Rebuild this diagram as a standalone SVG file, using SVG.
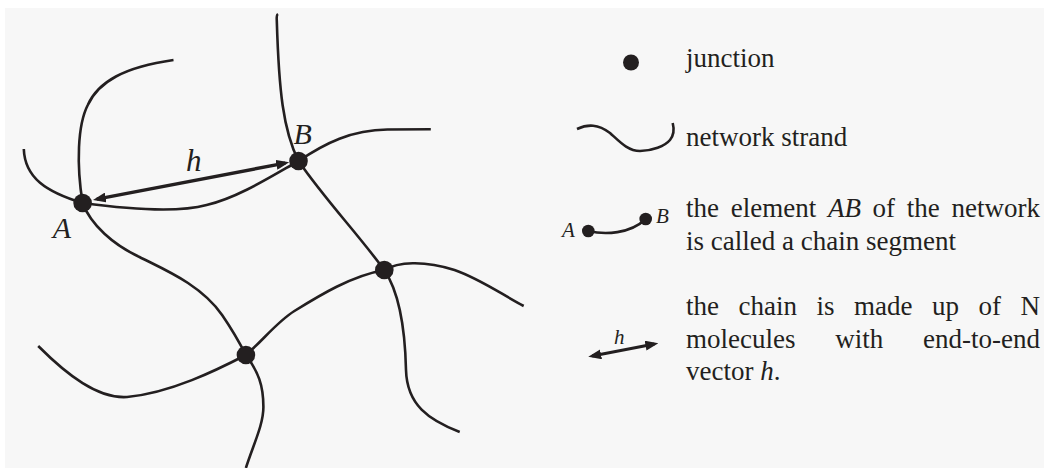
<svg xmlns="http://www.w3.org/2000/svg" width="1044" height="468" viewBox="0 0 1044 468">
  <style>
    .strand { fill: none; stroke: #231f20; stroke-width: 2.6; stroke-linecap: butt; }
    .junction { fill: #231f20; }
    .vec { fill: none; stroke: #231f20; stroke-width: 3.4; }
    .txt { font-family: "Liberation Serif", "Times New Roman", serif; font-size: 27px; fill: #231f20; }
    .lbl { font-family: "Liberation Serif", "Times New Roman", serif; font-style: italic; fill: #231f20; }
  </style>
  <defs>
    <marker id="head" viewBox="0 0 13 10" refX="9" refY="5" markerWidth="13" markerHeight="10" markerUnits="userSpaceOnUse" orient="auto-start-reverse">
      <path d="M0,0 L13,5 L0,10 z" fill="#231f20"/>
    </marker>
  </defs>
  <rect x="0" y="0" width="1044" height="468" fill="#ffffff"/>
  <rect x="5" y="8" width="1039" height="460" fill="#f7f7f7"/>

  <g id="connectors">
    <path class="strand" d="M278,14 Q276.3,15 276.8,21 C278.9,90 283,130 298.5,161"/>
    <path class="strand" d="M298.5,161 C325.4,143 351.2,130 387.4,129.5 L430.8,129.3"/>
    <path class="strand" d="M298.5,161 C325.4,200 356.4,232 384.3,270"/>
    <path class="strand" d="M298.5,161 C273.7,175 237.6,198 206.6,205 C180.8,212 134.3,210 82.6,203"/>
    <path class="strand" d="M23.8,149 C24.8,178 46.5,192 82.6,203"/>
    <path class="strand" d="M82.6,203 C76.4,165 77.5,125 87.8,105 C98.1,82 124,67 173.5,60"/>
    <path class="strand" d="M82.6,203 C90.9,225 113.6,245 139.5,257 C165.3,270 201.4,285 222.1,315 C232.4,330 239.7,343 245.9,355"/>
    <path class="strand" d="M245.9,355 C263.4,340 276.8,322 294.4,311 C320.2,295 351.2,276 384.3,270"/>
    <path class="strand" d="M384.3,270 C397.7,262 423.5,260 454.5,270 C480.3,279 501,294 523.7,306"/>
    <path class="strand" d="M384.3,270 C397.7,290 404.9,320 406,370 C407,405 428.7,420 459.7,432"/>
    <path class="strand" d="M245.9,355 C216.9,370 170.4,393 127.1,397 C98.1,399 67.1,375 38.2,346"/>
    <path class="strand" d="M245.9,355 C258.3,372 263.4,385 263.4,407 C263.4,425 253.1,445 245.9,468"/>
    <path id="vector-h" class="vec" d="M96.9,199.2 L285.3,163.1" marker-start="url(#head)" marker-end="url(#head)"/>
  </g>

  <g id="node-A">
    <circle class="junction" cx="82.6" cy="203" r="9.3"/>
    <text class="lbl" x="52.7" y="238" font-size="30">A</text>
  </g>
  <g id="node-B">
    <circle class="junction" cx="298.5" cy="161" r="9.3"/>
    <text class="lbl" x="293.4" y="144" font-size="30">B</text>
  </g>
  <g id="node-C">
    <circle class="junction" cx="245.9" cy="355" r="9.3"/>
  </g>
  <g id="node-D">
    <circle class="junction" cx="384.3" cy="270" r="9.3"/>
  </g>
  <g id="label-h">
    <text class="lbl" x="186" y="171" font-size="31">h</text>
  </g>

  <g id="legend-junction">
    <circle class="junction" cx="631" cy="62.5" r="8"/>
    <text class="txt" x="686" y="67">junction</text>
  </g>
  <g id="legend-strand">
    <path class="strand" d="M577,129 C588,124 598,124 610,133 C620,142 628,151 640,151 C652,151 665,146 670,140 C674,135 674,128 672.7,123"/>
    <text class="txt" x="686" y="146">network strand</text>
  </g>
  <g id="legend-segment">
    <path class="strand" d="M588.3,231 C605,235 630,234 645.7,219"/>
    <circle class="junction" cx="588.3" cy="231" r="6.3"/>
    <circle class="junction" cx="645.7" cy="219" r="6.3"/>
    <text class="lbl" x="562" y="237" font-size="21">A</text>
    <text class="lbl" x="656" y="223" font-size="21">B</text>
    <text class="txt" y="217"><tspan x="686">the</tspan><tspan x="730.7">element</tspan><tspan x="827.9" font-style="italic">AB</tspan><tspan x="872.6">of</tspan><tspan x="906.8">the</tspan><tspan x="951.5">network</tspan></text>
    <text class="txt" x="686" y="250">is called a chain segment</text>
  </g>
  <g id="legend-vector">
    <path class="vec" style="stroke-width:3" d="M592.2,356 L654.4,344" marker-start="url(#head)" marker-end="url(#head)"/>
    <text class="lbl" x="614" y="344" font-size="21">h</text>
    <text class="txt" y="315"><tspan x="686">the</tspan><tspan x="738.5">chain</tspan><tspan x="816.5">is</tspan><tspan x="854">made</tspan><tspan x="932">up</tspan><tspan x="978.5">of</tspan><tspan x="1020.5">N</tspan></text>
    <text class="txt" y="348"><tspan x="686">molecules</tspan><tspan x="835.2">with</tspan><tspan x="923">end-to-end</tspan></text>
    <text class="txt" x="686" y="380">vector <tspan font-style="italic">h</tspan>.</text>
  </g>
</svg>
